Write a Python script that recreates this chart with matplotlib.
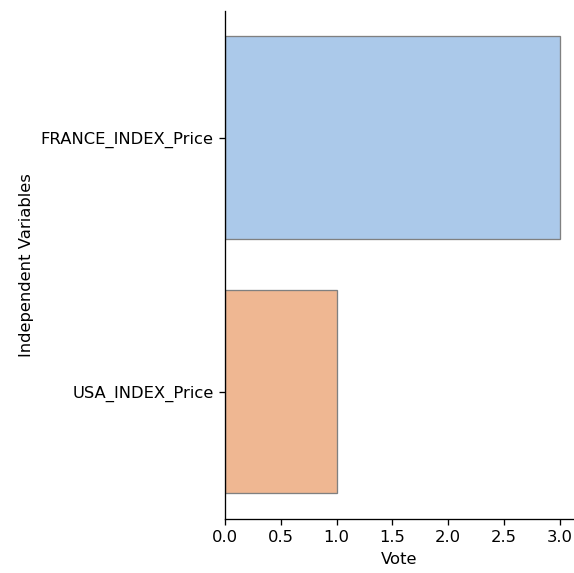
import matplotlib
matplotlib.use("Agg")
import matplotlib.pyplot as plt
import seaborn as sns

variables = ["FRANCE_INDEX_Price", "USA_INDEX_Price"]
votes = [3, 1]

palette = [sns.desaturate(c, 0.75) for c in sns.color_palette("pastel", 2)]

DPI = 118
fig = plt.figure(figsize=(574 / DPI, 573 / DPI), dpi=DPI)
ax = fig.add_axes([225/574, 1 - 518.5/573, (574 - 225)/574, (518.5 - 11)/573])
ax.barh(variables, votes, height=0.8, color=palette, edgecolor="0.5", linewidth=0.8)
ax.set_xlim(0, 3.13)
ax.set_ylim(1.5, -0.5)
ax.set_xlabel("Vote")
ax.set_ylabel("Independent Variables")
ax.spines["top"].set_visible(False)
ax.spines["right"].set_visible(False)
fig.savefig("out.png", dpi=DPI)
